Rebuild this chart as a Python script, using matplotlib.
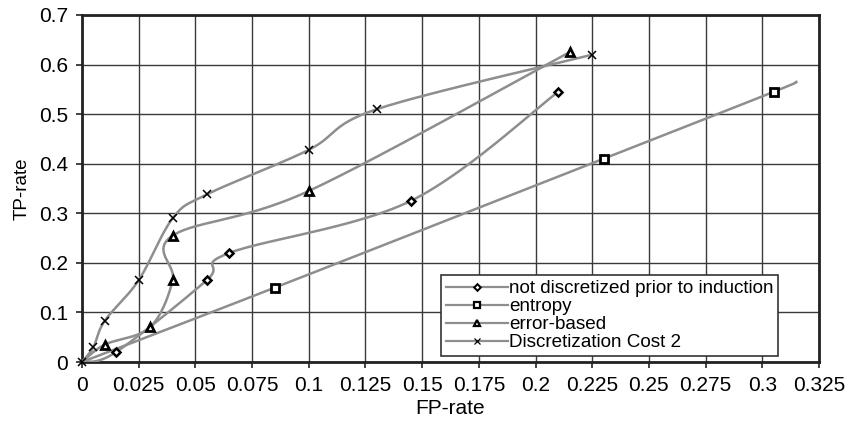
import numpy as np
import matplotlib
matplotlib.use("Agg")
import matplotlib.pyplot as plt
from matplotlib.lines import Line2D

plt.rcParams['font.family'] = ['Liberation Sans', 'DejaVu Sans']

# Data
nd_fp = [0.0, 0.015, 0.055, 0.065, 0.145, 0.21]
nd_tp = [0.0, 0.02, 0.165, 0.22, 0.325, 0.545]

ent_fp = [0.0, 0.085, 0.23, 0.305, 0.315]
ent_tp = [0.0, 0.15, 0.41, 0.545, 0.565]

err_fp = [0.0, 0.01, 0.03, 0.04, 0.04, 0.1, 0.215]
err_tp = [0.0, 0.035, 0.07, 0.165, 0.255, 0.345, 0.625]

dc_fp = [0.0, 0.005, 0.01, 0.025, 0.04, 0.055, 0.1, 0.13, 0.225]
dc_tp = [0.0, 0.03, 0.083, 0.165, 0.29, 0.338, 0.428, 0.51, 0.62]

labels = ["not discretized prior to induction", "entropy", "error-based",
          "Discretization Cost 2"]
xticks = [0, 0.025, 0.05, 0.075, 0.1, 0.125, 0.15, 0.175, 0.2, 0.225, 0.25,
          0.275, 0.3, 0.325]
xticklabels = ["0", "0.025", "0.05", "0.075", "0.1", "0.125", "0.15", "0.175",
               "0.2", "0.225", "0.25", "0.275", "0.3", "0.325"]
yticks = [0, 0.1, 0.2, 0.3, 0.4, 0.5, 0.6, 0.7]
yticklabels = ["0", "0.1", "0.2", "0.3", "0.4", "0.5", "0.6", "0.7"]


def smooth(x, y, n=30):
    """Excel-style smoothed line (Catmull-Rom / cubic Bezier)."""
    x = np.asarray(x, float)
    y = np.asarray(y, float)
    P = np.column_stack([x, y])
    out = [P[0]]
    for i in range(len(P) - 1):
        p0 = P[i - 1] if i > 0 else P[i]
        p1 = P[i]
        p2 = P[i + 1]
        p3 = P[i + 2] if i + 2 < len(P) else P[i + 1]
        c1 = p1 + (p2 - p0) / 6.0
        c2 = p2 - (p3 - p1) / 6.0
        t = np.linspace(0, 1, n)[1:, None]
        seg = ((1 - t) ** 3) * p1 + 3 * ((1 - t) ** 2) * t * c1 \
            + 3 * (1 - t) * t ** 2 * c2 + t ** 3 * p2
        out.extend(seg)
    out = np.array(out)
    return out[:, 0], out[:, 1]


fig = plt.figure(figsize=(8.48, 4.26), dpi=100)
ax = fig.add_axes([82 / 848, 1 - 362 / 426, (819 - 82) / 848, (362 - 15) / 426])

line_col = "#8e8e8e"
# (x, y, marker style, first marked index, last marked index)
series = [
    (nd_fp, nd_tp, dict(marker="D", ms=4.2, mfc="white", mec="black", mew=1.8), 1, None),
    (ent_fp, ent_tp, dict(marker="s", ms=5.2, mfc="white", mec="black", mew=2.0), 1, 4),
    (err_fp, err_tp, dict(marker="^", ms=6.2, mfc="white", mec="black", mew=2.0), 1, None),
    (dc_fp, dc_tp, dict(marker="x", ms=6, mfc="none", mec="black", mew=1.1), 0, None),
]

handles = []
for (xs, ys, mk, i0, i1), lab in zip(series, labels):
    sx, sy = smooth(xs, ys)
    ax.plot(sx, sy, color=line_col, lw=1.8, zorder=3)
    i1 = len(xs) if i1 is None else i1
    ax.plot(xs[i0:i1], ys[i0:i1], linestyle="none", zorder=4, clip_on=False, **mk)
    hk = dict(mk)
    hk["ms"] = mk["ms"] * 0.8
    hk["mew"] = mk["mew"] * 0.8
    handles.append(Line2D([0], [0], color=line_col, lw=1.6, **hk))

ax.set_xlim(0, 0.325)
ax.set_ylim(0, 0.7)
ax.set_xticks(xticks)
ax.set_xticklabels(xticklabels)
ax.set_yticks(yticks)
ax.set_yticklabels(yticklabels)
ax.grid(True, color="#3a3a3a", lw=1.0, zorder=1)
ax.tick_params(labelsize=15, length=4, width=1.2, pad=6, color="#222222")
for s in ax.spines.values():
    s.set_color("#222222")
    s.set_linewidth(2.0)

ax.set_xlabel("FP-rate", fontsize=15, labelpad=3)
ax.set_ylabel("TP-rate", fontsize=13.5, labelpad=6)

leg = ax.legend(handles, labels, loc="lower right",
                bbox_to_anchor=(778 / 848, 1 - 356 / 426), bbox_transform=fig.transFigure,
                fontsize=13.6, frameon=True, fancybox=False, handlelength=3.3,
                handletextpad=0.05, labelspacing=0.04, borderpad=0.25,
                borderaxespad=0, framealpha=1)
leg.get_frame().set_edgecolor("#333333")
leg.get_frame().set_linewidth(1.2)
leg.set_zorder(5)

fig.savefig("out.png", dpi=100)
